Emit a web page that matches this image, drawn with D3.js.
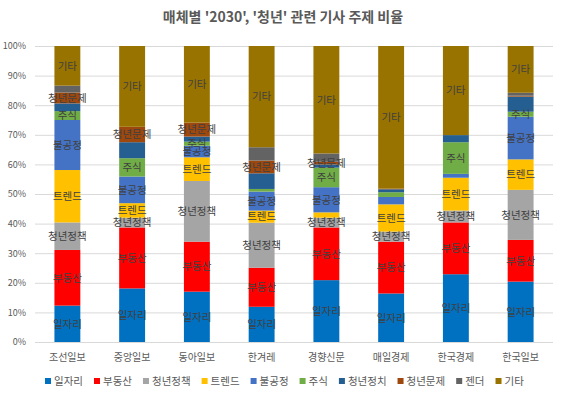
<!DOCTYPE html>
<html>
<head>
<meta charset="utf-8">
<script src="https://cdn.jsdelivr.net/npm/d3@7"></script>
<style>
  body { margin: 0; background: #fff; }
  svg text { font-family: "Noto Sans CJK KR", "Noto Sans", sans-serif; }
</style>
</head>
<body>
<svg id="chart" width="567" height="396"></svg>
<script>
// categories (media outlets)
var outlets = ["조선일보", "중앙일보", "동아일보", "한겨레", "경향신문", "매일경제", "한국경제", "한국일보"];
// topics, bottom to top
var topics = ["일자리", "부동산", "청년정책", "트렌드", "불공정", "주식", "청년정치", "청년문제", "젠더", "기타"];
var colors = ["#0070C0", "#FF0000", "#A5A5A5", "#FFC000", "#4472C4", "#70AD47", "#255E91", "#9E480E", "#636363", "#997300"];

// share (%) of each topic per outlet, in topic order
var shares = [
  [12.3, 18.8,  9.3, 17.7, 16.9,  3.0, 2.6, 3.7, 2.3, 13.4],
  [18.1, 20.6,  3.3,  4.9,  9.0,  6.2, 5.4, 5.2, 0.0, 27.3],
  [17.0, 16.9, 20.5,  8.0,  3.9,  1.4, 1.7, 4.7, 0.0, 25.9],
  [11.9, 13.2, 15.2,  4.1,  6.4,  0.9, 5.3, 4.3, 4.5, 34.2],
  [20.9, 17.8,  3.3,  1.8,  8.5,  6.6, 1.1, 0.9, 2.8, 36.3],
  [16.4, 17.5,  3.4,  9.2,  2.5,  1.6, 1.0, 0.2, 0.0, 48.2],
  [22.9, 17.5,  4.0, 11.1,  1.3, 10.7, 2.4, 0.0, 0.0, 30.1],
  [20.4, 14.1, 16.9, 10.3, 14.4,  1.7, 5.1, 0.3, 1.0, 15.8]
];
// which segments carry a data label (1 = shown)
var labelOn = [
  [1,1,1,1,1,1,0,1,0,1],
  [1,1,1,1,1,1,0,1,0,1],
  [1,1,1,1,1,1,0,1,0,1],
  [1,1,1,1,1,0,0,1,0,1],
  [1,1,1,0,1,1,0,1,0,1],
  [1,1,1,1,0,0,0,0,0,1],
  [1,1,1,1,0,1,0,0,0,1],
  [1,1,1,1,1,1,0,0,0,1]
];
var yTicks = [0, 0.1, 0.2, 0.3, 0.4, 0.5, 0.6, 0.7, 0.8, 0.9, 1];

var svg = d3.select("#chart");
var plotLeft = 35, plotRight = 553, plotTop = 46, plotBottom = 342;

var rows = outlets.map(function(o, i) {
  var r = { outlet: o, idx: i };
  topics.forEach(function(t, j) { r[t] = shares[i][j]; });
  return r;
});

var stack = d3.stack().keys(topics).offset(d3.stackOffsetExpand);
var layers = stack(rows);

var x = d3.scaleBand().domain(outlets).range([plotLeft, plotRight]).paddingInner(0.6).paddingOuter(0.3);
var y = d3.scaleLinear().domain([0, 1]).range([plotBottom, plotTop]);

// title
svg.append("text")
  .attr("x", 283).attr("y", 22)
  .attr("text-anchor", "middle")
  .style("font-size", "14px").style("font-weight", "bold")
  .style("fill", "#595959")
  .text("매체별 '2030', '청년' 관련 기사 주제 비율");

// gridlines
svg.append("g")
  .selectAll("line")
  .data(yTicks)
  .join("line")
    .attr("x1", plotLeft).attr("x2", plotRight)
    .attr("y1", function(d) { return y(d) + 0.5; })
    .attr("y2", function(d) { return y(d) + 0.5; })
    .style("stroke", "#d9d9d9").style("stroke-width", 1);

// y axis labels
var yAxis = d3.axisLeft(y).tickValues(yTicks).tickFormat(d3.format(".0%")).tickSize(0).tickPadding(9);
var gy = svg.append("g").attr("transform", "translate(" + plotLeft + ",0)").call(yAxis);
gy.select(".domain").remove();
gy.selectAll("text").style("font-size", "9px").style("fill", "#595959")
  .style("font-family", "\"Noto Sans CJK KR\", sans-serif");

// x axis labels
var xAxis = d3.axisBottom(x).tickSize(0).tickPadding(12);
var gx = svg.append("g").attr("transform", "translate(0," + plotBottom + ")").call(xAxis);
gx.select(".domain").remove();
gx.selectAll("text").style("font-size", "10px").style("fill", "#595959")
  .style("font-family", "\"Noto Sans CJK KR\", sans-serif");

// bars
var gl = svg.append("g").selectAll("g")
  .data(layers)
  .join("g")
    .style("fill", function(d, i) { return colors[i]; });

gl.selectAll("rect")
  .data(function(d) { return d; })
  .join("rect")
    .attr("x", function(d) { return x(d.data.outlet); })
    .attr("width", x.bandwidth())
    .attr("y", function(d) { return y(d[1]); })
    .attr("height", function(d) { return Math.max(0, y(d[0]) - y(d[1])); });

// data labels (series name)
layers.forEach(function(layer, j) {
  svg.append("g").selectAll("text")
    .data(layer.filter(function(d) { return labelOn[d.data.idx][j]; }))
    .join("text")
      .attr("x", function(d) { return x(d.data.outlet) + x.bandwidth() / 2; })
      .attr("y", function(d) { return (y(d[0]) + y(d[1])) / 2; })
      .attr("dy", "0.36em")
      .attr("text-anchor", "middle")
      .style("font-size", "10.5px")
      .style("fill", "#404040")
      .text(topics[j]);
});

// legend
var lg = svg.append("g").attr("transform", "translate(0,381)");
var lx = 45;
topics.forEach(function(t, i) {
  var item = lg.append("g").attr("transform", "translate(" + lx + ",0)");
  item.append("rect")
    .attr("x", 0).attr("y", -3).attr("width", 6).attr("height", 6)
    .style("fill", colors[i]);
  var tx = item.append("text")
    .attr("x", 9).attr("y", 0).attr("dy", "0.36em")
    .style("font-size", "10.5px").style("fill", "#595959")
    .text(t);
  lx += 9 + tx.node().getComputedTextLength() + 11;
});
</script>
</body>
</html>
